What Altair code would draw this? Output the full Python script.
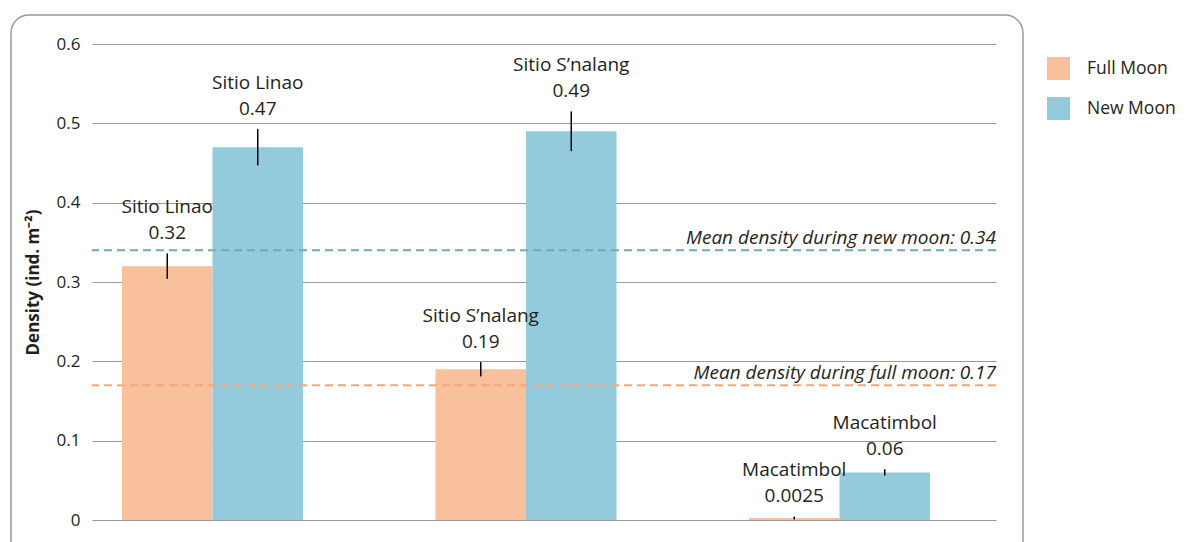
import altair as alt
import pandas as pd

# ---- data ----
sites = ["Sitio Linao", "Sitio S\u2019nalang", "Macatimbol"]
series = ["Full Moon", "New Moon"]
full_moon = [0.32, 0.19, 0.0025]
new_moon = [0.47, 0.49, 0.06]
full_err = [0.016, 0.009, 0.002]
new_err = [0.023, 0.025, 0.004]
full_labels = ["0.32", "0.19", "0.0025"]
new_labels = ["0.47", "0.49", "0.06"]
mean_full = 0.17
mean_new = 0.34
y_ticks = [0, 0.1, 0.2, 0.3, 0.4, 0.5, 0.6]

# ---- styling ----
ORANGE = "#F9C09C"
BLUE = "#93CBDC"
ORANGE_DASH = "#F2A77D"
BLUE_DASH = "#6FA9BA"
TEXT = "#231F20"
FONT = "Open Sans"
W, H = 904, 476

rows = []
for i, s in enumerate(sites):
    rows.append(dict(site=s, moon="Full Moon", value=full_moon[i], err=full_err[i], label=full_labels[i]))
    rows.append(dict(site=s, moon="New Moon", value=new_moon[i], err=new_err[i], label=new_labels[i]))
df = pd.DataFrame(rows)
df["lo"] = df["value"] - df["err"]
df["hi"] = df["value"] + df["err"]

means = pd.DataFrame({"moon": series, "mean": [mean_full, mean_new]})
means["text"] = [f"Mean density during {m.split()[0].lower()} moon: {v}" for m, v in zip(means["moon"], means["mean"])]

x_enc = alt.X("site:N", sort=sites, axis=None,
              scale=alt.Scale(paddingInner=0.4226, paddingOuter=0.1531, align=0.3125))
xo_enc = alt.XOffset("moon:N", sort=series, scale=alt.Scale(paddingInner=0, paddingOuter=0))
y_scale = alt.Scale(domain=[0, 0.6], nice=False)

base = alt.Chart(df)

bars = base.mark_bar().encode(
    x=x_enc, xOffset=xo_enc,
    y=alt.Y("value:Q", scale=y_scale, title="Density (ind. m\u207b\u00b2)",
            axis=alt.Axis(values=y_ticks, labelExpr="datum.value == 0 ? '0' : format(datum.value, '.1f')",
                          ticks=False, domain=False, grid=True, gridColor="#9a9a9a", gridWidth=1.2,
                          labelFontSize=17, labelFont=FONT, labelColor=TEXT, labelPadding=12,
                          titleFontSize=17, titleFont=FONT, titleFontWeight="bold", titleColor=TEXT,
                          titlePadding=14)),
    color=alt.Color("moon:N", scale=alt.Scale(domain=series, range=[ORANGE, BLUE]),
                    legend=alt.Legend(title=None, orient="none", legendX=955, legendY=13,
                                      symbolType="square", symbolSize=529, symbolStrokeWidth=0,
                                      symbolOpacity=1, labelFontSize=17.5, labelFont=FONT,
                                      labelColor=TEXT, labelOffset=17, rowPadding=17)),
)

errs = base.mark_rule(color="black", strokeWidth=1.5).encode(
    x=x_enc, xOffset=xo_enc,
    y=alt.Y("lo:Q", scale=y_scale), y2="hi:Q",
)

val_text = base.mark_text(dy=-14, baseline="alphabetic", fontSize=19, font=FONT, color=TEXT).encode(
    x=x_enc, xOffset=xo_enc, y=alt.Y("hi:Q", scale=y_scale), text="label:N",
)
name_text = base.mark_text(dy=-40, baseline="alphabetic", fontSize=19, font=FONT, color=TEXT).encode(
    x=x_enc, xOffset=xo_enc, y=alt.Y("hi:Q", scale=y_scale), text="site:N",
)

mbase = alt.Chart(means)
rule_full = mbase.transform_filter(alt.datum.moon == "Full Moon").mark_rule(
    color=ORANGE_DASH, strokeWidth=2, strokeDash=[8, 5]).encode(y=alt.Y("mean:Q", scale=y_scale))
rule_new = mbase.transform_filter(alt.datum.moon == "New Moon").mark_rule(
    color=BLUE_DASH, strokeWidth=2, strokeDash=[8, 5]).encode(y=alt.Y("mean:Q", scale=y_scale))
mean_text = mbase.mark_text(align="right", baseline="alphabetic", dy=-6, fontSize=19,
                            fontStyle="italic", font=FONT, color=TEXT).encode(
    x=alt.value(W), y=alt.Y("mean:Q", scale=y_scale), text="text:N")

frame = alt.Chart(pd.DataFrame({"a": [0]})).mark_rect(
    cornerRadius=18, fill="transparent", stroke="#9a9a9a", strokeWidth=1.5).encode(
    x=alt.value(-81), x2=alt.value(931), y=alt.value(-29), y2=alt.value(527))

chart = alt.layer(frame, bars, errs, val_text, name_text, rule_full, rule_new, mean_text).properties(
    width=W, height=H,
    padding={"left": 2, "top": 6, "right": 0, "bottom": 5},
).configure_view(stroke=None)

chart.save("out.html", embed_options={"renderer": "svg", "actions": False})
